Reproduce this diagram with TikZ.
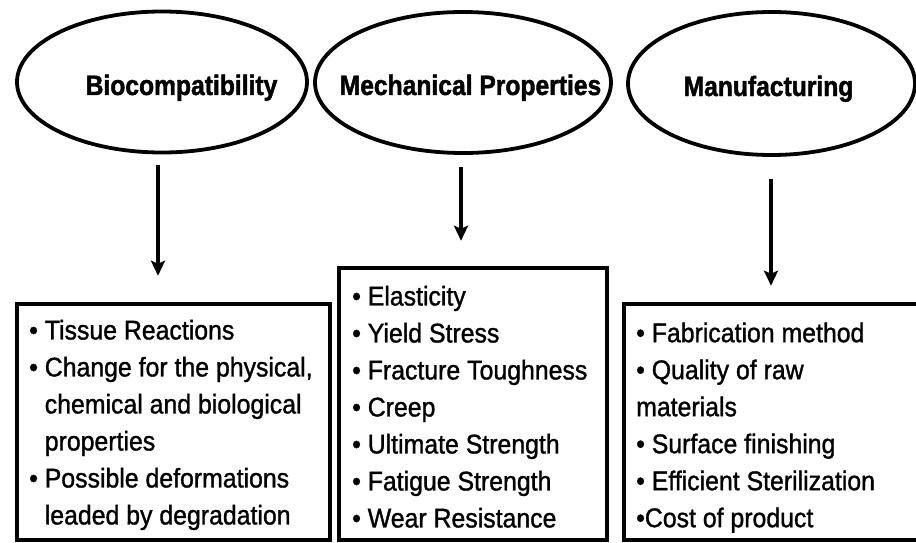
\documentclass[tikz,border=0pt]{standalone}
\usepackage{fontspec}
\setmainfont{Liberation Sans}
\newfontfamily\titlefont{Liberation Sans}[FakeStretch=0.88,FakeBold=1.5]
\newfontfamily\boxfont{Liberation Sans}[FakeStretch=0.92,FakeBold=1.2]
\usetikzlibrary{shapes.geometric,arrows.meta}
\begin{document}
\begin{tikzpicture}[x=1pt,y=-1pt,
  oval/.style={ellipse, draw, line width=3.8pt, inner sep=0pt},
  ttl/.style={font=\titlefont\bfseries\fontsize{28}{32}\selectfont, inner sep=0pt, anchor=base},
  listbox/.style={rectangle, draw, line width=4.5pt, inner sep=0pt},
  listtxt/.style={font=\boxfont\fontsize{27}{37}\selectfont, align=left, inner sep=0pt, anchor=north west},
  arr/.style={line width=4pt, -{Stealth[length=15pt,width=14pt,inset=3pt]}}]
\useasboundingbox (0,0) rectangle (916,543);
% ovals
\node[oval, minimum width=290pt, minimum height=141pt] (e1) at (162,82) {};
\node[oval, minimum width=296pt, minimum height=141pt] (e2) at (463,82.5) {};
\node[oval, minimum width=287pt, minimum height=143pt] (e3) at (771.5,83.5) {};
\node[ttl] (t1) at (181.5,95) {Biocompatibility};
\node[ttl] (t2) at (470.5,95) {Mechanical Properties};
\node[ttl] (t3) at (768.5,96) {Manufacturing};
% boxes
\node[listbox, minimum width=313pt, minimum height=236pt] (b1) at (173.5,422) {};
\node[listbox, minimum width=268pt, minimum height=272pt] (b2) at (473,404) {};
\node[listbox, minimum width=306pt, minimum height=236pt] (b3) at (777,422) {};
\node[listtxt] (l1) at (29,319.7) {• Tissue Reactions\\
• Change for the physical,\\
\phantom{•\ }chemical and biological\\
\phantom{•\ }properties\\
• Possible deformations\\
\phantom{•\ }leaded by degradation};
\node[listtxt] (l2) at (352,285.7) {• Elasticity\\
• Yield Stress\\
• Fracture Toughness\\
• Creep\\
• Ultimate Strength\\
• Fatigue Strength\\
• Wear Resistance};
\node[listtxt] (l3) at (636,322.4) {• Fabrication method\\
• Quality of raw\\
materials\\
• Surface finishing\\
• Efficient Sterilization\\
•Cost of product};
% arrows
\coordinate (x1) at (158,0);
\coordinate (x2) at (461,0);
\coordinate (x3) at (771,0);
\draw[arr, shorten <=10.5pt, shorten >=26pt] (e1.south -| x1) -- (b1.north -| x1);
\draw[arr, shorten <=12pt, shorten >=25pt] (e2.south -| x2) -- (b2.north -| x2);
\draw[arr, shorten <=22pt, shorten >=16pt] (e3.south -| x3) -- (b3.north -| x3);
\end{tikzpicture}
\end{document}
